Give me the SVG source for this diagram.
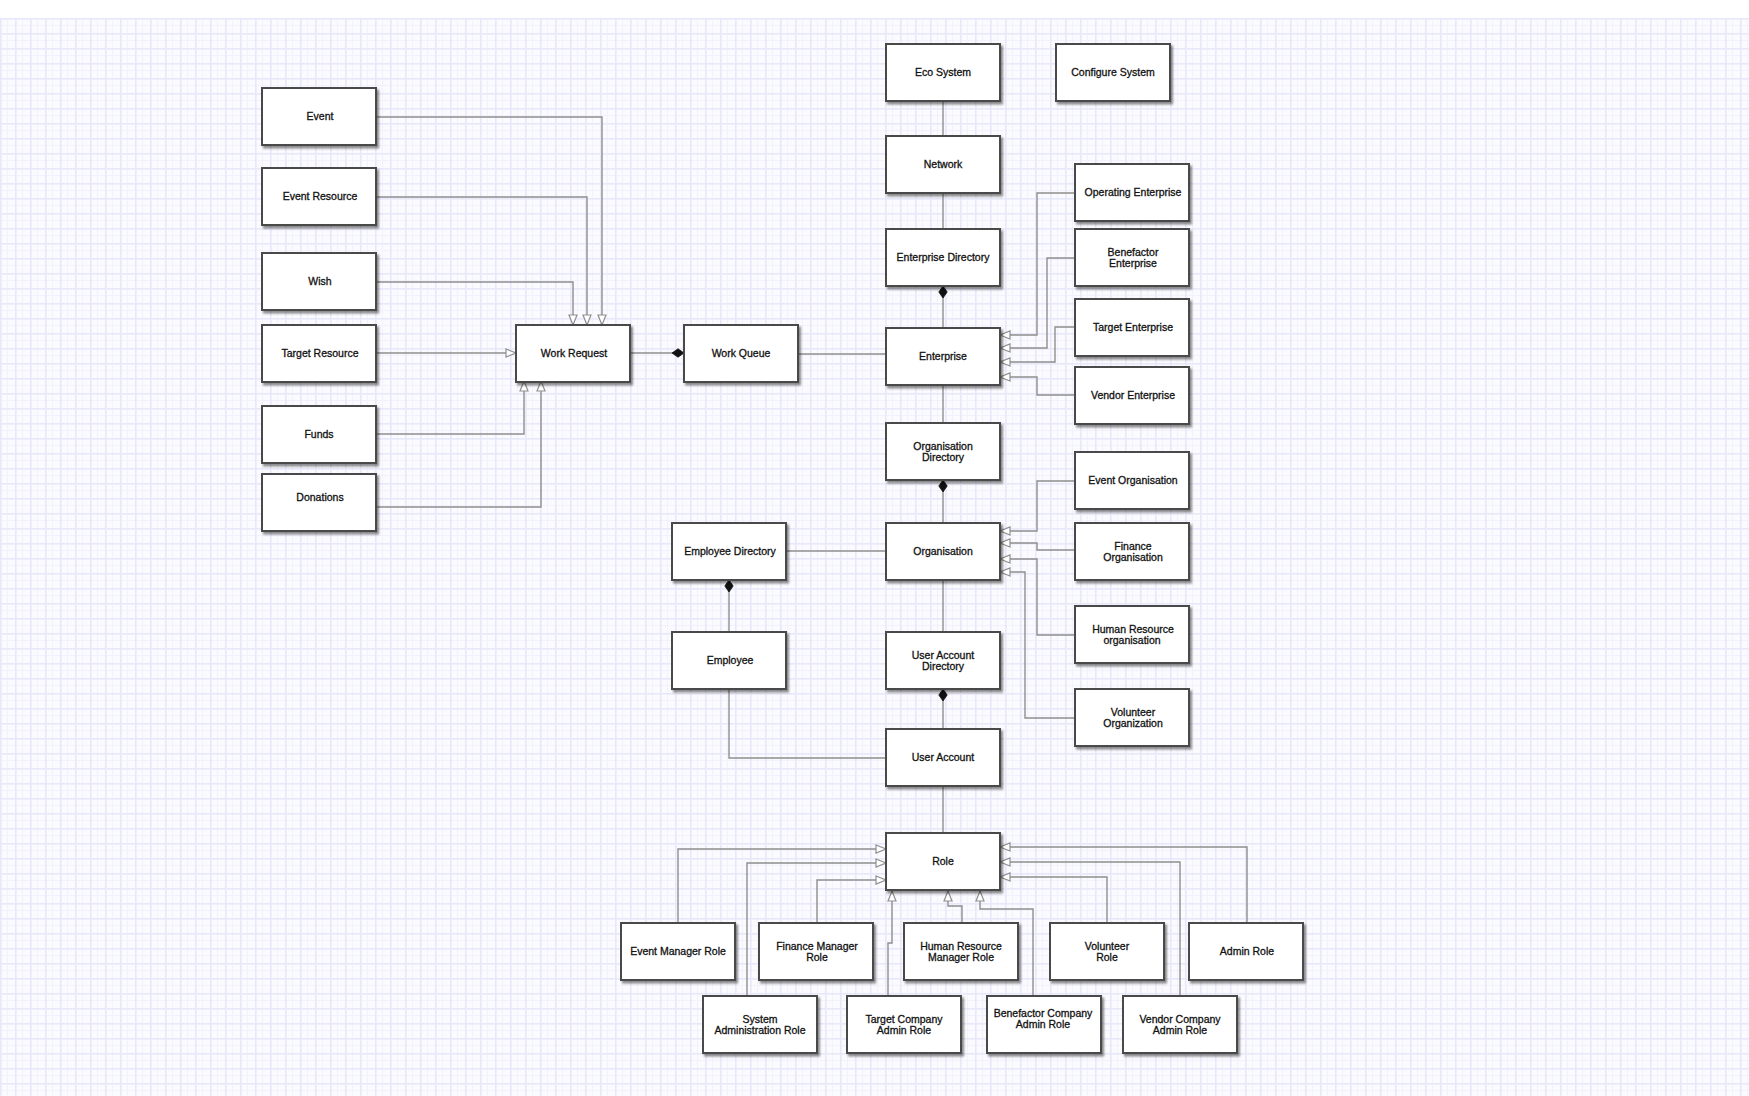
<svg xmlns="http://www.w3.org/2000/svg" width="1749" height="1096" viewBox="0 0 1749 1096">
<style>
.node rect{fill:#fff;stroke:#4a4a4a;stroke-width:2;filter:url(#sh)}
.node text{font-family:"Liberation Sans",Arial,sans-serif;font-size:10.5px;fill:#111;stroke:#111;stroke-width:0.3;text-anchor:middle}
.conn path{fill:none;stroke:#8f8f8f;stroke-width:1.4}
.gen{marker-end:url(#tri)}
.comp{marker-start:url(#dia)}
</style>
<defs>
<pattern id="grid" x="0" y="18" width="15" height="15" patternUnits="userSpaceOnUse">
<rect width="15" height="15" fill="#fbfbff"/>
<rect x="0" y="7" width="15" height="1" fill="#f2f2fd"/>
<rect x="7" y="0" width="1" height="15" fill="#f2f2fd"/>
<rect x="0" y="0" width="15" height="1.6" fill="#e8e8fb"/>
<rect x="0" y="0" width="1.6" height="15" fill="#e8e8fb"/>
</pattern>
<filter id="sh" x="-10%" y="-10%" width="130%" height="130%">
<feDropShadow dx="2" dy="2.5" stdDeviation="1.2" flood-color="#000" flood-opacity="0.45"/>
</filter>
<marker id="tri" markerUnits="userSpaceOnUse" viewBox="0 0 12 10" refX="11" refY="5" markerWidth="12" markerHeight="10" orient="auto">
<path d="M1,1 L11,5 L1,9 z" fill="#fff" stroke="#8f8f8f" stroke-width="1.2"/>
</marker>
<marker id="dia" markerUnits="userSpaceOnUse" viewBox="0 0 13 10" refX="0.5" refY="5" markerWidth="13" markerHeight="10" orient="auto">
<path d="M0.5,5 L6.5,0.8 L12.5,5 L6.5,9.2 z" fill="#111" stroke="#111" stroke-width="0.8"/>
</marker>
</defs>
<rect x="0" y="0" width="1749" height="1096" fill="#fff"/>
<rect x="0" y="18" width="1749" height="1078" fill="url(#grid)"/>

<g id="connectors" class="conn">
<path class="gen" d="M377 117 H602 V325"/>
<path class="gen" d="M377 197 H587 V325"/>
<path class="gen" d="M377 282 H573 V325"/>
<path class="gen" d="M377 353 H516"/>
<path class="gen" d="M377 434 H524 V381"/>
<path class="gen" d="M377 507 H541 V381"/>
<path class="comp" d="M684 353 H631"/>
<path d="M798 354 H886"/>
<path d="M943 101 V136"/>
<path d="M943 193 V229"/>
<path class="comp" d="M943 286 V328"/>
<path d="M943 385 V423"/>
<path class="comp" d="M943 480 V523"/>
<path d="M943 580 V632"/>
<path class="comp" d="M943 689 V729"/>
<path d="M943 786 V833"/>
<path d="M786 551 H886"/>
<path class="comp" d="M729 580 V632"/>
<path d="M729 689 V758 H886"/>
<path class="gen" d="M1075 193 H1037 V335 H1000"/>
<path class="gen" d="M1075 258 H1047 V348 H1000"/>
<path class="gen" d="M1075 327 H1055 V362 H1000"/>
<path class="gen" d="M1075 395 H1037 V377 H1000"/>
<path class="gen" d="M1075 481 H1037 V531 H1000"/>
<path class="gen" d="M1075 550 H1037 V543 H1000"/>
<path class="gen" d="M1075 635 H1037 V559 H1000"/>
<path class="gen" d="M1075 718 H1025 V572 H1000"/>
<path class="gen" d="M678 923 V849 H886"/>
<path class="gen" d="M747 996 V863 H886"/>
<path class="gen" d="M817 923 V880 H886"/>
<path class="gen" d="M888 996 V943 H892 V891"/>
<path class="gen" d="M962 923 V906 H948 V891"/>
<path class="gen" d="M1033 996 V909 H980 V891"/>
<path class="gen" d="M1107 923 V877 H1000"/>
<path class="gen" d="M1180 996 V862 H1000"/>
<path class="gen" d="M1247 923 V847 H1000"/>
</g>

<g id="n-event" class="node"><rect x="262" y="88" width="114" height="57"/><text x="320" y="120.2">Event</text></g>
<g id="n-event-resource" class="node"><rect x="262" y="168" width="114" height="57"/><text x="320" y="200.2">Event Resource</text></g>
<g id="n-wish" class="node"><rect x="262" y="253" width="114" height="57"/><text x="320" y="285.2">Wish</text></g>
<g id="n-target-resource" class="node"><rect x="262" y="325" width="114" height="57"/><text x="320" y="357.2">Target Resource</text></g>
<g id="n-funds" class="node"><rect x="262" y="406" width="114" height="57"/><text x="319" y="438.2">Funds</text></g>
<g id="n-donations" class="node"><rect x="262" y="474" width="114" height="57"/><text x="320" y="500.7">Donations</text></g>
<g id="n-work-request" class="node"><rect x="516" y="325" width="114" height="57"/><text x="574" y="357.2">Work Request</text></g>
<g id="n-work-queue" class="node"><rect x="684" y="325" width="114" height="57"/><text x="741" y="357.2">Work Queue</text></g>
<g id="n-ecosystem" class="node"><rect x="886" y="44" width="114" height="57"/><text x="943" y="76.2">Eco System</text></g>
<g id="n-configure-system" class="node"><rect x="1056" y="44" width="114" height="57"/><text x="1113" y="76.2">Configure System</text></g>
<g id="n-network" class="node"><rect x="886" y="136" width="114" height="57"/><text x="943" y="168.2">Network</text></g>
<g id="n-enterprise-directory" class="node"><rect x="886" y="229" width="114" height="57"/><text x="943" y="261.2">Enterprise Directory</text></g>
<g id="n-enterprise" class="node"><rect x="886" y="328" width="114" height="57"/><text x="943" y="360.2">Enterprise</text></g>
<g id="n-organisation-directory" class="node"><rect x="886" y="423" width="114" height="57"/><text x="943" y="449.7">Organisation</text><text x="943" y="460.7">Directory</text></g>
<g id="n-organisation" class="node"><rect x="886" y="523" width="114" height="57"/><text x="943" y="555.2">Organisation</text></g>
<g id="n-user-account-directory" class="node"><rect x="886" y="632" width="114" height="57"/><text x="943" y="658.7">User Account</text><text x="943" y="669.7">Directory</text></g>
<g id="n-user-account" class="node"><rect x="886" y="729" width="114" height="57"/><text x="943" y="761.2">User Account</text></g>
<g id="n-role" class="node"><rect x="886" y="833" width="114" height="57"/><text x="943" y="865.2">Role</text></g>
<g id="n-operating-enterprise" class="node"><rect x="1075" y="164" width="114" height="57"/><text x="1133" y="196.2">Operating Enterprise</text></g>
<g id="n-benefactor-enterprise" class="node"><rect x="1075" y="229" width="114" height="57"/><text x="1133" y="255.7">Benefactor</text><text x="1133" y="266.7">Enterprise</text></g>
<g id="n-target-enterprise" class="node"><rect x="1075" y="299" width="114" height="57"/><text x="1133" y="331.2">Target Enterprise</text></g>
<g id="n-vendor-enterprise" class="node"><rect x="1075" y="367" width="114" height="57"/><text x="1133" y="399.2">Vendor Enterprise</text></g>
<g id="n-event-organisation" class="node"><rect x="1075" y="452" width="114" height="57"/><text x="1133" y="484.2">Event Organisation</text></g>
<g id="n-finance-organisation" class="node"><rect x="1075" y="523" width="114" height="57"/><text x="1133" y="549.7">Finance</text><text x="1133" y="560.7">Organisation</text></g>
<g id="n-hr-organisation" class="node"><rect x="1075" y="606" width="114" height="57"/><text x="1133" y="632.7">Human Resource</text><text x="1132" y="643.7">organisation</text></g>
<g id="n-volunteer-organization" class="node"><rect x="1075" y="689" width="114" height="57"/><text x="1133" y="715.7">Volunteer</text><text x="1133" y="726.7">Organization</text></g>
<g id="n-employee-directory" class="node"><rect x="672" y="523" width="114" height="57"/><text x="730" y="555.2">Employee Directory</text></g>
<g id="n-employee" class="node"><rect x="672" y="632" width="114" height="57"/><text x="730" y="664.2">Employee</text></g>
<g id="n-event-manager-role" class="node"><rect x="621" y="923" width="114" height="57"/><text x="678" y="955.2">Event Manager Role</text></g>
<g id="n-finance-manager-role" class="node"><rect x="759" y="923" width="114" height="57"/><text x="817" y="949.7">Finance Manager</text><text x="817" y="960.7">Role</text></g>
<g id="n-hr-manager-role" class="node"><rect x="904" y="923" width="114" height="57"/><text x="961" y="949.7">Human Resource</text><text x="961" y="960.7">Manager Role</text></g>
<g id="n-volunteer-role" class="node"><rect x="1050" y="923" width="114" height="57"/><text x="1107" y="949.7">Volunteer</text><text x="1107" y="960.7">Role</text></g>
<g id="n-admin-role" class="node"><rect x="1189" y="923" width="114" height="57"/><text x="1247" y="955.2">Admin Role</text></g>
<g id="n-system-admin-role" class="node"><rect x="703" y="996" width="114" height="57"/><text x="760" y="1022.7">System</text><text x="760" y="1033.7">Administration Role</text></g>
<g id="n-target-company-admin-role" class="node"><rect x="847" y="996" width="114" height="57"/><text x="904" y="1022.7">Target Company</text><text x="904" y="1033.7">Admin Role</text></g>
<g id="n-benefactor-company-admin-role" class="node"><rect x="987" y="996" width="114" height="57"/><text x="1043" y="1016.7">Benefactor Company</text><text x="1043" y="1027.7">Admin Role</text></g>
<g id="n-vendor-company-admin-role" class="node"><rect x="1123" y="996" width="114" height="57"/><text x="1180" y="1022.7">Vendor Company</text><text x="1180" y="1033.7">Admin Role</text></g>
</svg>
